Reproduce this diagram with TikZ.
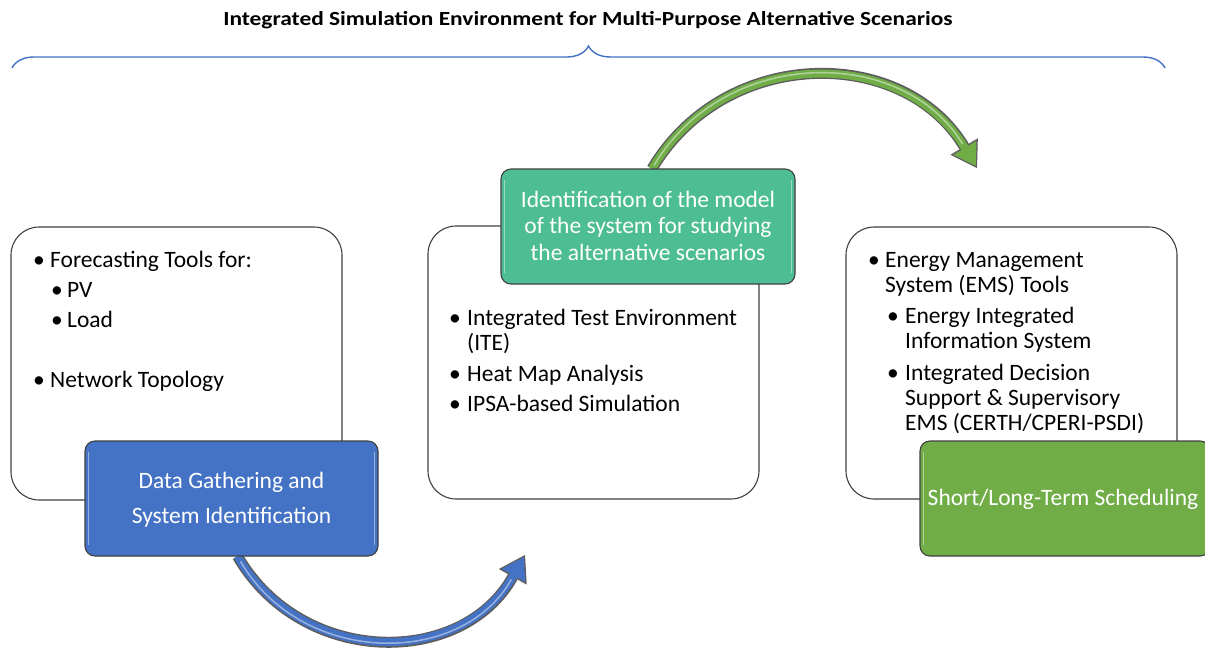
\documentclass[tikz,border=0pt]{standalone}
\usepackage{fontspec}
\setmainfont{Carlito}
\usetikzlibrary{arrows.meta,decorations.pathreplacing,calc}
\definecolor{cblue}{HTML}{4472C4}
\definecolor{cteal}{HTML}{4DBD93}
\definecolor{cgreen}{HTML}{70AD47}
\definecolor{cborder}{HTML}{404040}
\newcommand{\bodyfont}{\fontsize{23.5}{25}\selectfont}
\newcommand{\bul}[2]{\begin{tabular}[t]{@{}p{#1}@{}l@{}}\textbullet&#2\end{tabular}}
\begin{document}
\begin{tikzpicture}[x=1pt,y=1pt,
  whitebox/.style={draw=cborder, line width=1.1pt, fill=white, rounded corners=28pt, inner sep=0pt},
  colbox/.style={draw=cborder, line width=1.1pt, rounded corners=10pt, text=white, align=center, font=\bodyfont, inner sep=0pt},
  item/.style={anchor=base west, inner sep=0pt, font=\bodyfont, text=black},
  outerarrow/.style={draw=cborder!85, line width=11pt},
  highlight/.style={draw=white, opacity=0.45, line width=1.5pt},
  bracestyle/.style={draw=cblue, line width=1.4pt, decorate, decoration={brace, amplitude=22pt}}
]
\useasboundingbox (0,0) rectangle (1205,-648);

% title and brace
\node[font=\bfseries\fontsize{20}{24}\selectfont, inner sep=0pt] (title) at (588,-20) {\scalebox{1.17}[1]{Integrated Simulation Environment for Multi-Purpose Alternative Scenarios}};
\draw[bracestyle] (12,-68) -- (1165,-68);

% white boxes
\node[whitebox, minimum width=331pt, minimum height=273pt] (L) at (176.5,-363.5) {};
\node[whitebox, minimum width=331pt, minimum height=273pt] (M) at (593.5,-362.5) {};
\node[whitebox, minimum width=331pt, minimum height=272pt] (R) at (1011.5,-363) {};

% left items
\node[item] (l1) at (33,-267) {\bul{17pt}{Forecasting Tools for:}};
\node[item] (l2) at (51,-297) {\bul{16pt}{PV}};
\node[item] (l3) at (51,-327) {\bul{16pt}{Load}};
\node[item] (l4) at (33,-387) {\bul{17pt}{Network Topology}};

% middle items
\node[item] (m1) at (449,-325) {\bul{18pt}{Integrated Test Environment\\&(ITE)}};
\node[item] (m2) at (449,-381) {\bul{18pt}{Heat Map Analysis}};
\node[item] (m3) at (449,-411) {\bul{18pt}{IPSA-based Simulation}};

% right items
\node[item] (r1) at (868,-267) {\bul{17pt}{Energy Management\\&System (EMS) Tools}};
\node[item] (r2) at (887,-323) {\bul{18pt}{Energy Integrated\\&Information System}};
\node[item] (r3) at (887,-380) {\bul{18pt}{Integrated Decision\\&Support \& Supervisory\\&EMS (CERTH/CPERI-PSDI)}};

% coordinates for arrow free ends
\coordinate (bt) at (525,-555);
\coordinate (gt) at (977,-168);

% colored box positions (for arrow anchors)
\path (231.5,-498.5) node[minimum width=293pt, minimum height=115pt, inner sep=0pt] (Bpos) {};
\path (648,-226.5) node[minimum width=294pt, minimum height=115pt, inner sep=0pt] (Tpos) {};

% blue arrow
\draw[outerarrow, -{Triangle[length=25pt,width=32pt,line width=0pt]}]
  ([xshift=6pt]Bpos.south) .. controls (302,-667) and (462,-667.5) .. (bt);
\draw[draw=cblue, line width=8pt, shorten >=2.5pt, -{Triangle[length=21pt,width=27pt,line width=0pt]}]
  ([xshift=6pt]Bpos.south) .. controls (302,-667) and (462,-667.5) .. (bt);
\draw[highlight, shorten >=28pt, shorten <=6pt]
  ([xshift=6pt]Bpos.south) .. controls (302,-667) and (462,-667.5) .. (bt);

% green arrow
\draw[outerarrow, -{Triangle[length=25pt,width=32pt,line width=0pt]}]
  ([xshift=4pt]Tpos.north) .. controls (725.6,-45.5) and (903.4,-45.5) .. (gt);
\draw[draw=cgreen, line width=8pt, shorten >=2.5pt, -{Triangle[length=21pt,width=27pt,line width=0pt]}]
  ([xshift=4pt]Tpos.north) .. controls (725.6,-45.5) and (903.4,-45.5) .. (gt);
\draw[highlight, shorten >=28pt, shorten <=4pt]
  ([xshift=4pt]Tpos.north) .. controls (725.6,-45.5) and (903.4,-45.5) .. (gt);

% colored boxes
\node[colbox, fill=cblue, minimum width=293pt, minimum height=115pt] (B) at (231.5,-498.5) {};
\node[inner sep=0pt, text=white, font=\bodyfont, align=center, anchor=base] (Btxt) at (231.5,-523)
  {Data Gathering and\\[10pt]System Identification};
\node[colbox, fill=cteal, minimum width=294pt, minimum height=115pt] (T) at (648,-226.5) {};
\node[inner sep=0pt, text=white, align=center, anchor=base, font=\fontsize{23.5}{26.5}\selectfont] (Ttxt) at (648,-260)
  {Identification of the model\\of the system for studying\\the alternative scenarios};
\node[colbox, fill=cgreen, minimum width=290pt, minimum height=115pt] (G) at (1065,-498.5) {};
\node[inner sep=0pt, text=white, font=\bodyfont, anchor=base] (Gtxt) at (1063,-505) {Short/Long-Term Scheduling};

% bevel highlights
\foreach \n in {B,T,G}{
  \draw[highlight] ([xshift=4pt,yshift=-12pt]\n.north west) -- ([xshift=4pt,yshift=12pt]\n.south west);
  \draw[highlight] ([xshift=-4pt,yshift=-12pt]\n.north east) -- ([xshift=-4pt,yshift=12pt]\n.south east);
}
\end{tikzpicture}
\end{document}
